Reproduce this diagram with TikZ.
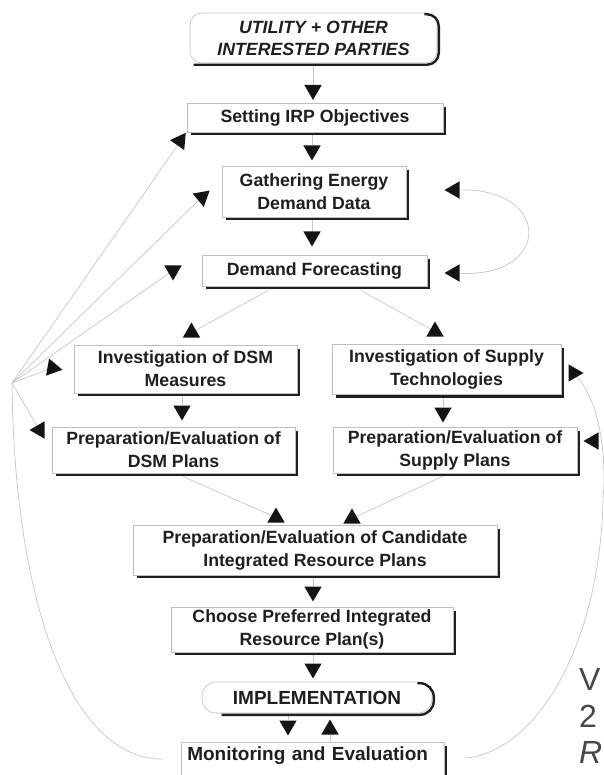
\documentclass[tikz,border=0pt]{standalone}
\usepackage{fontspec}
\setmainfont{Liberation Sans}
\usetikzlibrary{shapes.geometric}
\pgfdeclarelayer{links}
\pgfsetlayers{links,main}

\tikzset{
  box/.style={rectangle, draw=black!25, line width=0.6pt, fill=white, inner sep=0pt,
    align=center, text=black!88, font=\bfseries\fontsize{17.7}{23}\selectfont},
  link/.style={draw=black!22, line width=0.7pt},
  edgeline/.style={draw=black!88, line width=2.4pt},
  tri/.style={regular polygon, regular polygon sides=3, minimum size=20pt,
    inner sep=0pt, fill=black!92},
  tup/.style={tri},
  tdown/.style={tri, rotate=180},
  tleft/.style={tri, rotate=90},
  tright/.style={tri, rotate=-90},
  sidetext/.style={inner sep=0pt, text=black!72, font=\fontsize{32}{36}\selectfont},
}
% thick right/bottom edge drawn beside a rectangular box
\newcommand{\dropedge}[1]{%
  \draw[edgeline] ([xshift=1.5pt,yshift=-4pt]#1.north east)
    -- ([xshift=1.5pt,yshift=-1.5pt]#1.south east)
    -- ([xshift=4pt,yshift=-1.5pt]#1.south west);}

\begin{document}
\begin{tikzpicture}[x=1pt,y=-1pt]
\useasboundingbox (0,0) rectangle (603,775);
\clip (0,0) rectangle (603,775);

% ---- process boxes ----
\node[box, rounded corners=12pt, minimum width=247pt, minimum height=50pt,
  font=\bfseries\itshape\fontsize{17.7}{22}\selectfont] (util) at (313.5,38)
  {UTILITY + OTHER\\INTERESTED PARTIES};
\node[box, minimum width=256pt, minimum height=29pt] (setobj) at (315,117.5)
  {Setting IRP Objectives};
\node[box, minimum width=184pt, minimum height=51pt] (gather) at (314,191.5)
  {Gathering Energy\\Demand Data};
\node[box, minimum width=225pt, minimum height=31pt] (fcast) at (314.5,270.5)
  {Demand Forecasting};
\node[box, minimum width=223pt, minimum height=48pt] (dsminv) at (185.5,369)
  {Investigation of DSM\\Measures};
\node[box, minimum width=229pt, minimum height=50pt] (supinv) at (446.5,369.5)
  {Investigation of Supply\\Technologies};
\node[box, minimum width=243pt, minimum height=46pt] (dsmplan) at (173.5,450)
  {Preparation/Evaluation of\\DSM Plans};
\node[box, minimum width=244pt, minimum height=46pt] (supplan) at (455,450)
  {Preparation/Evaluation of\\Supply Plans};
\node[box, minimum width=364pt, minimum height=50pt] (cand) at (315,550)
  {Preparation/Evaluation of Candidate\\Integrated Resource Plans};
\node[box, minimum width=282pt, minimum height=45pt] (choose) at (312,629.5)
  {Choose Preferred Integrated\\Resource Plan(s)};
\node[box, rounded corners=14pt, minimum width=230pt, minimum height=31pt,
  font=\bfseries\fontsize{19}{23}\selectfont] (impl) at (317,697.5)
  {IMPLEMENTATION};
\node[box, anchor=north west, font=\bfseries\fontsize{19}{23}\selectfont,
  text width=251pt, align=left, inner xsep=6pt, inner ysep=4pt,
  text height=13.7pt, text depth=40pt] (monitor) at (181,742)
  {Monitoring and Evaluation};

% ---- thick edges ----
\draw[edgeline, rounded corners=12pt] ([xshift=-13pt,yshift=-1.5pt]util.north east)
  -- ([xshift=1.5pt,yshift=-1.5pt]util.north east)
  -- ([xshift=1.5pt,yshift=-1.5pt]util.south east)
  -- ([xshift=4pt,yshift=-1.5pt]util.south west);
\dropedge{setobj}
\dropedge{gather}
\dropedge{fcast}
\dropedge{dsminv}
\dropedge{supinv}
\dropedge{dsmplan}
\dropedge{supplan}
\dropedge{cand}
\dropedge{choose}
\dropedge{monitor}
\draw[edgeline, rounded corners=14pt] ([xshift=-15pt,yshift=-1.5pt]impl.north east)
  -- ([xshift=1.5pt,yshift=-1.5pt]impl.north east)
  -- ([xshift=1.5pt,yshift=-1.5pt]impl.south east)
  -- ([xshift=20pt,yshift=-1.5pt]impl.south west);

% ---- arrowheads ----
\node[tdown] (t1) at (313,90) {};
\node[tdown] (t2) at (312,150.5) {};
\node[tdown] (t3) at (312,236.5) {};
\node[tup] (t4) at (191.5,332.5) {};
\node[tup] (t5) at (435,331.5) {};
\node[tdown] (t6) at (182,410.5) {};
\node[tdown] (t7) at (443,412.5) {};
\node[tup] (t8) at (276,517.5) {};
\node[tup] (t9) at (352,518.5) {};
\node[tdown] (t10) at (313,591.5) {};
\node[tdown] (t11) at (313,668.5) {};
\node[tdown] (t12) at (288,725.5) {};
\node[tup] (t13) at (330,729.5) {};
% feedback heads on the left fan
\node[tri, rotate=-35] (f1) at (180,141) {};
\node[tri, rotate=-50] (f2) at (202,197) {};
\node[tdown] (f3) at (173,270.5) {};
\node[tri, rotate=-100] (f4) at (52.5,368) {};
\node[tleft] (f5) at (39.5,430) {};
% loop heads on the right
\node[tleft] (lg) at (454.5,190) {};
\node[tleft] (ld) at (454.5,273) {};
\node[tright] (st) at (573.5,373) {};
\node[tleft] (sp) at (593.5,441) {};

% ---- free ends of the feedback curves ----
\coordinate (hub) at (12,383);
\coordinate (lend) at (163,759);
\coordinate (rend) at (466,758);

% ---- connectors, kept underneath boxes and heads ----
\begin{pgfonlayer}{links}
\fill[white] (0,0) rectangle (603,775);
\draw[link] (t1 |- util.south) -- (t1);
\draw[link] (t2 |- setobj.south) -- (t2);
\draw[link] (t3 |- gather.south) -- (t3);
\draw[link] ([xshift=-46pt,yshift=-4pt]fcast.south) -- (t4);
\draw[link] ([xshift=46pt,yshift=-4pt]fcast.south) -- (t5);
\draw[link] (t6 |- dsminv.south) -- (t6);
\draw[link] (t7 |- supinv.south) -- (t7);
\draw[link] ([xshift=9pt,yshift=-3pt]dsmplan.south) -- (t8);
\draw[link] ([xshift=-12pt,yshift=-3pt]supplan.south) -- (t9);
\draw[link] (t10 |- cand.south) -- (t10);
\draw[link] (t11 |- choose.south) -- (t11);
\draw[link] (t12 |- impl.south) -- (t12);
\draw[link] (t13 |- monitor.north) -- (t13);
% left fan of feedback lines
\draw[link] (hub) -- (setobj.south west);
\draw[link] (hub) -- (f2);
\draw[link] (hub) -- (f3);
\draw[link] (hub) -- (f4);
\draw[link] (hub) -- (f5);
\draw[link] (hub) .. controls (14,600) and (70,760) .. (lend);
% right feedback curve
\draw[link] (rend) .. controls (540,750) and (600,640) .. (603,500)
  .. controls (607,450) and (598,400) .. (st);
% forecasting loop
\draw[link] (lg) .. controls (552,188) and (552,278) .. (ld);
\end{pgfonlayer}

% ---- caption fragment at the right margin ----
\node[sidetext, anchor=base west] (capa) at (579,690) {V};
\node[sidetext, anchor=base west] (capb) at (579,727) {2};
\node[sidetext, anchor=base west, font=\itshape\fontsize{32}{36}\selectfont] (capc) at (579,763) {R};
\end{tikzpicture}
\end{document}
